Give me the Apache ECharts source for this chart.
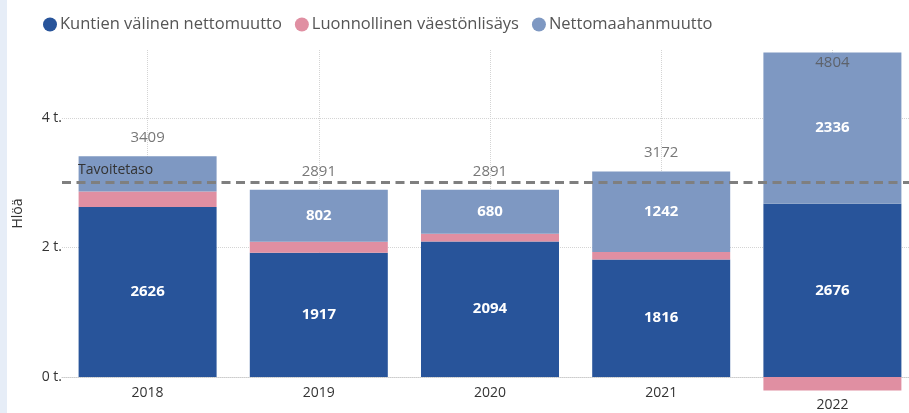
<!DOCTYPE html>
<html>
<head>
<meta charset="utf-8">
<title>Väestönmuutos</title>
<script src="https://cdn.jsdelivr.net/npm/echarts@6/dist/echarts.min.js"></script>
<style>
	html, body { margin: 0; padding: 0; background: #fff; }
	#chart { width: 909px; height: 413px; }
</style>
</head>
<body>
<div id="chart"></div>
<script>
// data
var years = ['2018', '2019', '2020', '2021', '2022'];
var kuntienValinen = [2626, 1917, 2094, 1816, 2676];
var luonnollinen = [240, 172, 117, 114, -208];
var nettomaahanmuutto = [543, 802, 680, 1242, 2336];
var totals = [3409, 2891, 2891, 3172, 4804];
var tavoitetaso = 3000;

var fontFam = '"Open Sans", "Noto Sans", sans-serif';

function segLabel(minShow) {
	return {
		show: true,
		position: 'inside',
		color: '#fff',
		fontSize: 15,
		fontWeight: 'bold',
		fontFamily: fontFam,
		formatter: function(p) {
			return Math.abs(p.value) >= minShow ? String(p.value) : '';
		}
	};
}

// totals sit above the bar, or inside its top when a part is negative
var totalData = [];
for (var i = 0; i < years.length; i++) {
	var hasNeg = luonnollinen[i] < 0;
	totalData.push({
		value: totals[i],
		label: hasNeg ? { position: 'inside', offset: [0, -3] } : { position: 'top', distance: 11 }
	});
}

var chart = echarts.init(document.getElementById('chart'));

var option = {
	animation: false,
	textStyle: { fontFamily: fontFam },
	graphic: [{
		type: 'rect',
		left: 0, top: 0,
		shape: { width: 7, height: 413 },
		style: { fill: '#e6edf7' }
	}],
	legend: {
		left: 38,
		top: 11,
		icon: 'circle',
		itemWidth: 14,
		itemHeight: 14,
		itemGap: 13,
		textStyle: { color: '#555', fontSize: 16.5, fontFamily: fontFam, padding: [0, 0, 0, -2] },
		data: ['Kuntien välinen nettomuutto', 'Luonnollinen väestönlisäys', 'Nettomaahanmuutto']
	},
	grid: { left: 62, top: 50, bottom: 36, width: 856, outerBoundsMode: 'none', containLabel: false },
	xAxis: {
		type: 'category',
		data: years,
		axisLine: { show: true, lineStyle: { color: '#ccc', type: 'dotted' } },
		axisTick: { show: false },
		axisLabel: {
			color: '#333',
			fontSize: 14,
			margin: 9,
			formatter: function(v) {
				return v === '2022' ? '{low|' + v + '}' : v;
			},
			rich: { low: { color: '#333', fontSize: 14, padding: [12, 0, 0, 0] } }
		}
	},
	yAxis: {
		type: 'value',
		min: 0,
		max: 5050,
		interval: 2000,
		name: 'Hlöä',
		nameLocation: 'middle',
		nameGap: 37,
		nameTextStyle: { color: '#333', fontSize: 14 },
		axisLine: { show: false },
		axisTick: { show: false },
		axisLabel: {
			color: '#333',
			fontSize: 14,
			margin: 0,
			showMaxLabel: false,
			formatter: function(v) {
				return v % 2000 === 0 ? (v / 1000) + ' t.' : '';
			}
		},
		splitLine: { show: true, showMaxLine: false, lineStyle: { color: '#d4d4d4', type: 'dotted' } }
	},
	series: [
		{
			// vertical dotted guides at the categories, kept behind the bars
			type: 'line',
			data: [],
			silent: true,
			z: 0,
			markLine: {
				z: 0,
				symbol: 'none',
				silent: true,
				label: { show: false },
				lineStyle: { color: '#d4d4d4', type: 'dotted', width: 1 },
				data: years.map(function(y) { return { xAxis: y }; })
			}
		},
		{
			name: 'Kuntien välinen nettomuutto',
			type: 'bar',
			stack: 'all',
			barWidth: 138,
			clip: false,
			itemStyle: { color: '#28549a' },
			label: segLabel(600),
			data: kuntienValinen
		},
		{
			name: 'Luonnollinen väestönlisäys',
			type: 'bar',
			stack: 'all',
			clip: false,
			itemStyle: { color: '#e08fa2' },
			label: { show: false },
			data: luonnollinen
		},
		{
			name: 'Nettomaahanmuutto',
			type: 'bar',
			stack: 'all',
			clip: false,
			itemStyle: { color: '#7e98c2' },
			label: segLabel(600),
			data: nettomaahanmuutto,
			markLine: {
				symbol: 'none',
				silent: true,
				lineStyle: { color: '#7f7f7f', type: [9, 5.5], width: 3 },
				label: {
					show: true,
					position: 'insideStartTop',
					distance: [16, 6],
					color: '#333',
					fontSize: 14,
					formatter: 'Tavoitetaso'
				},
				data: [{ yAxis: tavoitetaso }]
			}
		},
		{
			name: 'Yhteensä',
			type: 'scatter',
			symbolSize: 0,
			silent: true,
			z: 5,
			label: { show: true, color: '#555', fontSize: 15 },
			data: totalData
		}
	]
};

chart.setOption(option);
</script>
</body>
</html>
